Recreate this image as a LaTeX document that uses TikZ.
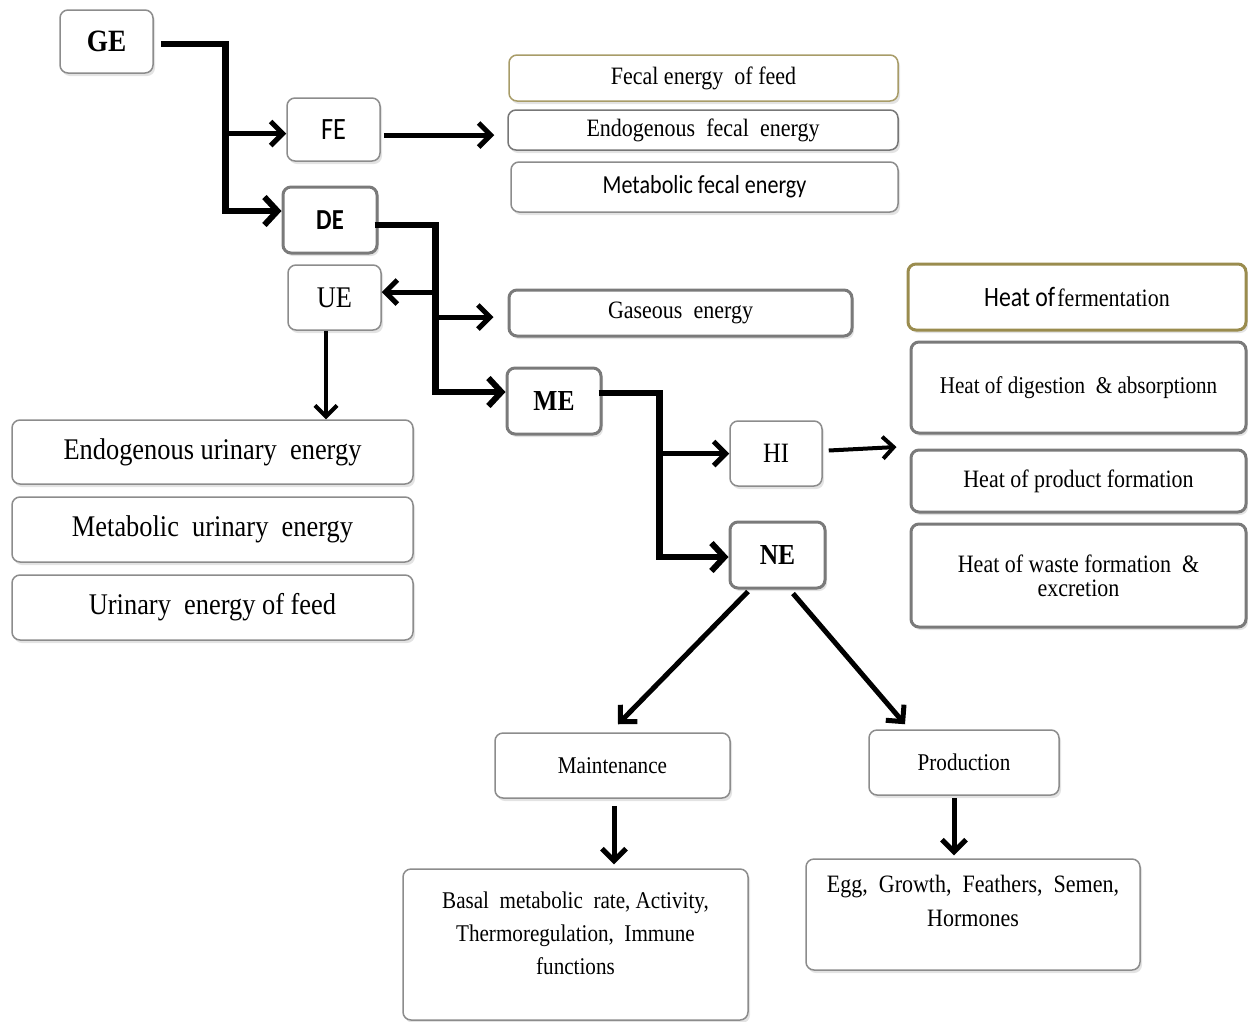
\documentclass[tikz,border=0pt]{standalone}
\usepackage{fontspec}
\setmainfont{Liberation Serif}[FakeStretch=0.88]
\newfontfamily\calib{Carlito}[FakeStretch=0.85]
\usetikzlibrary{arrows.meta,shadows}
\definecolor{bthin}{HTML}{8C8C8C}
\definecolor{bthick}{HTML}{7A7A7A}
\definecolor{oliveA}{HTML}{A89C68}
\definecolor{oliveB}{HTML}{9A8C4E}
\newcommand{\fsz}[2]{\fontsize{#1}{#2}\selectfont}
\begin{document}
\begin{tikzpicture}[x=1pt,y=-1pt,
  box/.style={draw=bthin, line width=1.5pt, rounded corners=8pt, fill=white, inner sep=0pt, align=center,
    drop shadow={shadow xshift=2pt, shadow yshift=-3pt, opacity=0.22, fill=gray}},
  boxthick/.style={box, draw=bthick, line width=3pt},
  flow/.style={line width=6.5pt, line join=miter, -{Straight Barb[length=13pt,width=28pt,line width=6pt]}},
  branch/.style={line width=5pt, -{Straight Barb[length=12pt,width=24pt,line width=5pt]}},
  thinarrow/.style={line width=4pt, -{Straight Barb[length=11pt,width=22pt,line width=4pt]}},
]
\useasboundingbox (0,0) rectangle (1248,1021);

% left / top column
\node[box, minimum width=93pt, minimum height=63pt, font=\fsz{31}{33}\bfseries] (GE) at (106.5,41.5) {GE};
\node[box, minimum width=93pt, minimum height=63pt, font=\calib\fsz{31}{33}] (FE) at (333.5,129.5) {FE};
\node[boxthick, minimum width=94pt, minimum height=66pt, font=\calib\fsz{29}{31}\bfseries] (DE) at (330,220) {DE};
\node[box, minimum width=93pt, minimum height=65pt, font=\fsz{30}{32}] (UE) at (334.5,297.5) {UE};

% fecal boxes
\node[box, draw=oliveA, minimum width=389pt, minimum height=46pt, font=\fsz{25}{27}] (fef) at (703.5,78) {Fecal energy\ \ of feed};
\node[box, draw=bthin!85!black, minimum width=390pt, minimum height=40pt, font=\fsz{25}{27}] (efe) at (703,130) {Endogenous\ \ fecal\ \ energy};
\node[box, minimum width=387pt, minimum height=50pt, font=\calib\fsz{26}{28}] (mfe) at (704.5,187) {Metabolic fecal energy};
\node[boxthick, minimum width=343pt, minimum height=46pt, font=\fsz{25}{27}] (gas) at (680.5,313) {Gaseous\ \ energy};

% heat boxes
\node[boxthick, draw=oliveB, minimum width=338pt, minimum height=66pt] (hf) at (1077,297) {{\calib\fsz{28}{30}Heat of} {\fsz{25}{27}fermentation}};
\node[boxthick, minimum width=335pt, minimum height=91pt, font=\fsz{24}{26}] (hda) at (1078.5,387.5) {Heat of digestion\ \ \& absorptionn};
\node[boxthick, minimum width=335pt, minimum height=62pt, font=\fsz{25}{27}] (hpf) at (1078.5,481) {Heat of product formation};
\node[boxthick, minimum width=335pt, minimum height=103pt, font=\fsz{25}{24}] (hwf) at (1078.5,575.5) {Heat of waste formation\ \ \&\\excretion};

% ME / HI / NE
\node[boxthick, minimum width=94pt, minimum height=66pt, font=\fsz{29}{31}\bfseries] (ME) at (554,401) {ME};
\node[box, minimum width=92pt, minimum height=65pt, font=\fsz{28}{30}] (HI) at (776,453.5) {HI};
\node[boxthick, minimum width=95pt, minimum height=66pt, font=\fsz{29}{31}\bfseries] (NE) at (777.5,555) {NE};

% urinary boxes
\node[box, minimum width=401pt, minimum height=64pt, font=\fsz{30}{32}] (eue) at (212.5,452) {Endogenous urinary\ \ energy};
\node[box, minimum width=401pt, minimum height=65pt, font=\fsz{30}{32}] (mue) at (212.5,529.5) {Metabolic\ \ urinary\ \ energy};
\node[box, minimum width=401pt, minimum height=65pt, font=\fsz{30}{32}] (ufe) at (212.5,607.5) {Urinary\ \ energy of feed};

% bottom
\node[box, minimum width=235pt, minimum height=65pt, font=\fsz{24}{26}] (maint) at (612.5,765.5) {Maintenance};
\node[box, minimum width=190pt, minimum height=65pt, font=\fsz{24}{26}] (prod) at (964,762.5) {Production};
\node[box, minimum width=345pt, minimum height=151pt,
  label={[name=basaltxt, align=center, font=\fsz{24}{33}, yshift=11pt]center:{Basal\ \ metabolic\ \ rate, Activity,\\Thermoregulation,\ \ Immune\\functions}}] (basal) at (575.5,944.5) {};
\node[box, minimum width=334pt, minimum height=111pt,
  label={[name=eggtxt, align=center, font=\fsz{25}{34}, yshift=14pt]center:{Egg,\ \ Growth,\ \ Feathers,\ \ Semen,\\Hormones}}] (egg) at (973,914.5) {};

% connectors
\draw[flow] ([xshift=7pt,yshift=-2.5pt]GE.east) -| ([xshift=-56pt,yshift=9pt]DE.west) -- ([yshift=9pt]DE.west);
\draw[branch] ([xshift=-60pt,yshift=-4pt]FE.west) -- ([yshift=-4pt]FE.west);
\draw[branch] ([xshift=3pt,yshift=-5.5pt]FE.east) -- ([xshift=-13pt,yshift=-5pt]efe.west);

\draw[flow] ([xshift=-4pt,yshift=-5pt]DE.east) -| ([xshift=-70pt,yshift=9pt]ME.west) -- ([yshift=9pt]ME.west);
\draw[branch] ([xshift=56pt,yshift=5.5pt]UE.east) -- ([yshift=5.5pt]UE.east);
\draw[branch] ([xshift=-72pt,yshift=-4pt]gas.west) -- ([xshift=-14pt,yshift=-4pt]gas.west);
\draw[thinarrow] ([xshift=-8.5pt]UE.south) -- ([xshift=113.5pt]eue.north);

\draw[flow] ([xshift=-4pt,yshift=8pt]ME.east) -| ([xshift=-69pt,yshift=-2pt]NE.west) -- ([yshift=-2pt]NE.west);
\draw[branch] ([xshift=-69pt]HI.west) -- (HI.west);
\draw[thinarrow] ([xshift=6pt,yshift=3pt]HI.east) -- ([xshift=-13pt,yshift=-59.5pt]hda.west);

\draw[branch] ([xshift=-29.5pt,yshift=-2pt]NE.south) -- ([xshift=5.5pt,yshift=8pt]maint.north);
\draw[branch] ([xshift=15.5pt,yshift=-4pt]NE.south) -- ([xshift=-59pt,yshift=5pt]prod.north);
\draw[branch] ([xshift=1.5pt,yshift=-7pt]maint.south) -- ([xshift=38.5pt,yshift=4pt]basal.north);
\draw[branch] ([xshift=-10pt,yshift=-2pt]prod.south) -- ([xshift=-19pt,yshift=3pt]egg.north);
\end{tikzpicture}
\end{document}
